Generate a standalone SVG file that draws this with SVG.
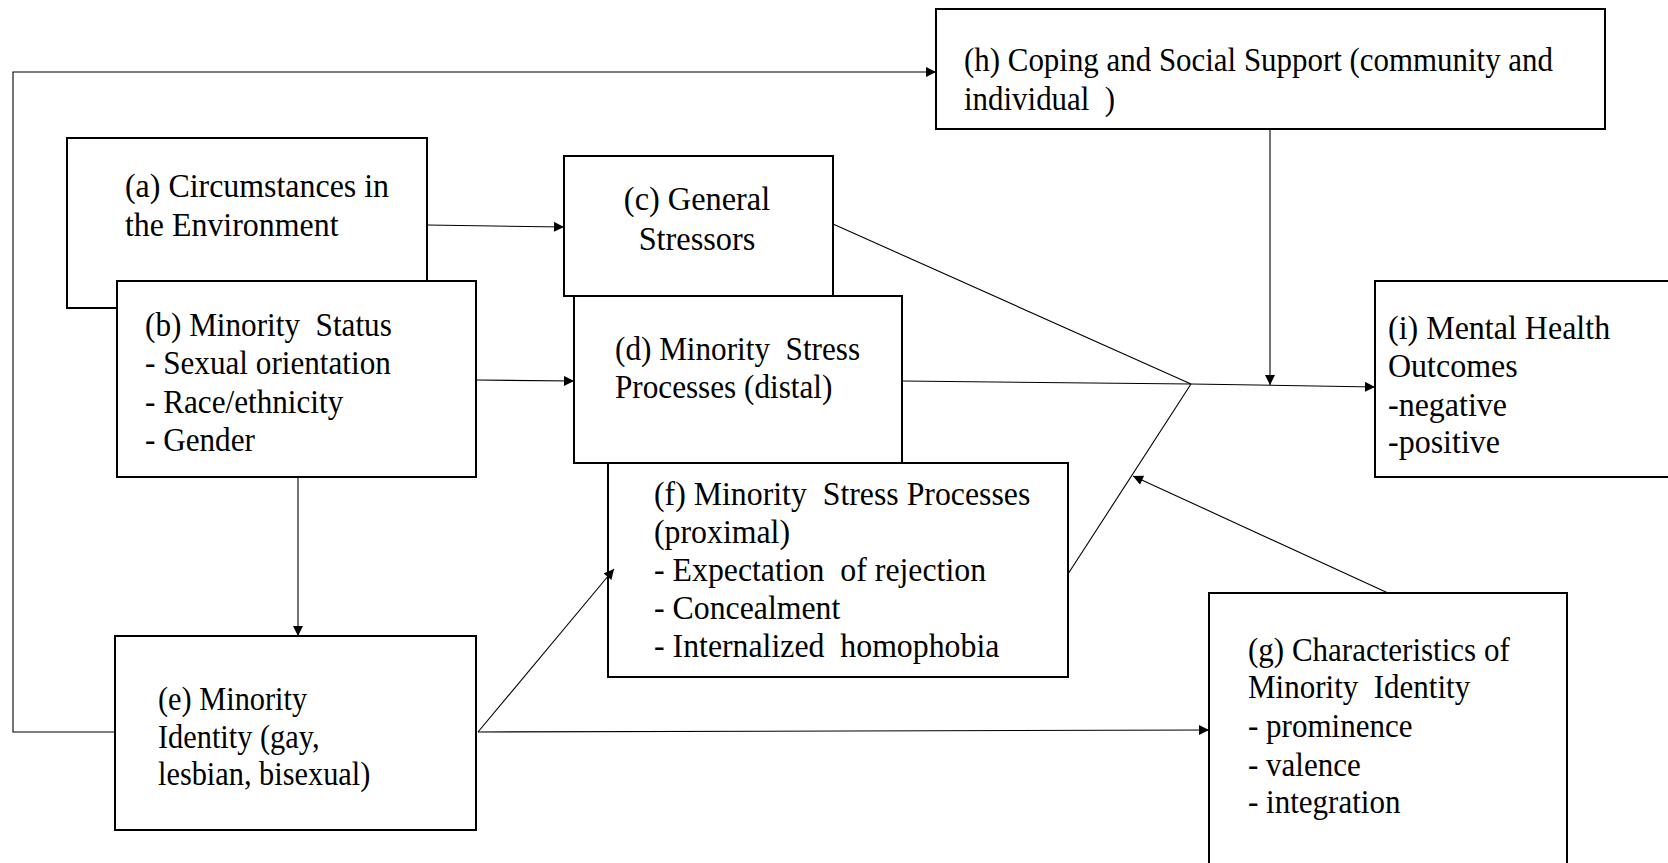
<svg xmlns="http://www.w3.org/2000/svg" width="1668" height="863" viewBox="0 0 1668 863">
<style>
.box{fill:#fff;stroke:#000;stroke-width:2}
.t{font-family:'Liberation Serif','Times New Roman',serif;font-size:33px;fill:#000;white-space:pre}
.c{fill:none;stroke:#000;stroke-width:1.1}
</style>
<defs>
<marker id="ah" viewBox="0 0 10 10" refX="10" refY="5" markerWidth="11" markerHeight="10" markerUnits="userSpaceOnUse" orient="auto">
<path d="M0,0 L10,5 L0,10 z" fill="#000"/>
</marker>
</defs>
<rect width="1668" height="863" fill="#fff"/>
<g id="h"><rect class="box" x="936" y="9" width="669" height="120"/>
<g transform="translate(964 0) scale(0.937 1)">
<text class="t" x="0" y="71">(h) Coping and Social Support (community and</text>
<text class="t" x="0" y="110">individual  )</text></g></g>
<g id="a"><rect class="box" x="67" y="138" width="360" height="170"/>
<g transform="translate(125 0) scale(0.967 1)">
<text class="t" x="0" y="197">(a) Circumstances in</text>
<text class="t" x="0" y="236">the Environment</text></g></g>
<g id="c"><rect class="box" x="564" y="156" width="269" height="140"/>
<g transform="translate(697 0) scale(0.98 1)">
<text class="t" x="0" y="210" text-anchor="middle">(c) General</text>
<text class="t" x="0" y="250" text-anchor="middle">Stressors</text></g></g>
<g id="b"><rect class="box" x="117" y="281" width="359" height="196"/>
<g transform="translate(145 0) scale(0.945 1)">
<text class="t" x="0" y="336">(b) Minority  Status</text>
<text class="t" x="0" y="374">- Sexual orientation</text>
<text class="t" x="0" y="413">- Race/ethnicity</text>
<text class="t" x="0" y="451">- Gender</text></g></g>
<g id="d"><rect class="box" x="574" y="296" width="328" height="167"/>
<g transform="translate(615 0) scale(0.945 1)">
<text class="t" x="0" y="360">(d) Minority  Stress</text>
<text class="t" x="0" y="398">Processes (distal)</text></g></g>
<g id="f"><rect class="box" x="608" y="463" width="460" height="214"/>
<g transform="translate(654 0) scale(0.964 1)">
<text class="t" x="0" y="505">(f) Minority  Stress Processes</text>
<text class="t" x="0" y="543">(proximal)</text>
<text class="t" x="0" y="581">- Expectation  of rejection</text>
<text class="t" x="0" y="619">- Concealment</text>
<text class="t" x="0" y="657">- Internalized  homophobia</text></g></g>
<g id="e"><rect class="box" x="115" y="636" width="361" height="194"/>
<g transform="translate(158 0) scale(0.92 1)">
<text class="t" x="0" y="710">(e) Minority</text>
<text class="t" x="0" y="748">Identity (gay,</text>
<text class="t" x="0" y="785">lesbian, bisexual)</text></g></g>
<g id="i"><rect class="box" x="1375" y="281" width="310" height="196"/>
<g transform="translate(1388 0) scale(0.97 1)">
<text class="t" x="0" y="339">(i) Mental Health</text>
<text class="t" x="0" y="377">Outcomes</text>
<text class="t" x="0" y="416">-negative</text>
<text class="t" x="0" y="453">-positive</text></g></g>
<g id="g"><rect class="box" x="1209" y="593" width="358" height="290"/>
<g transform="translate(1248 0) scale(0.94 1)">
<text class="t" x="0" y="661">(g) Characteristics of</text>
<text class="t" x="0" y="698">Minority  Identity</text>
<text class="t" x="0" y="737">- prominence</text>
<text class="t" x="0" y="776">- valence</text>
<text class="t" x="0" y="813">- integration</text></g></g>
<g id="connectors">
<polyline class="c" points="115,732 13,732 13,72 936,72" marker-end="url(#ah)"/>
<line class="c" x1="427" y1="225" x2="564" y2="227" marker-end="url(#ah)"/>
<line class="c" x1="476" y1="380" x2="574" y2="381" marker-end="url(#ah)"/>
<line class="c" x1="298" y1="477" x2="298" y2="636" marker-end="url(#ah)"/>
<line class="c" x1="478" y1="732" x2="614" y2="569" marker-end="url(#ah)"/>
<line class="c" x1="478" y1="732" x2="1209" y2="730" marker-end="url(#ah)"/>
<line class="c" x1="833" y1="224" x2="1191" y2="384"/>
<line class="c" x1="902" y1="381" x2="1191" y2="384"/>
<line class="c" x1="1068" y1="574" x2="1191" y2="384"/>
<line class="c" x1="1191" y1="384" x2="1375" y2="387" marker-end="url(#ah)"/>
<line class="c" x1="1270" y1="129" x2="1270" y2="385" marker-end="url(#ah)"/>
<line class="c" x1="1388" y1="593" x2="1133" y2="476" marker-end="url(#ah)"/>
</g>
</svg>
